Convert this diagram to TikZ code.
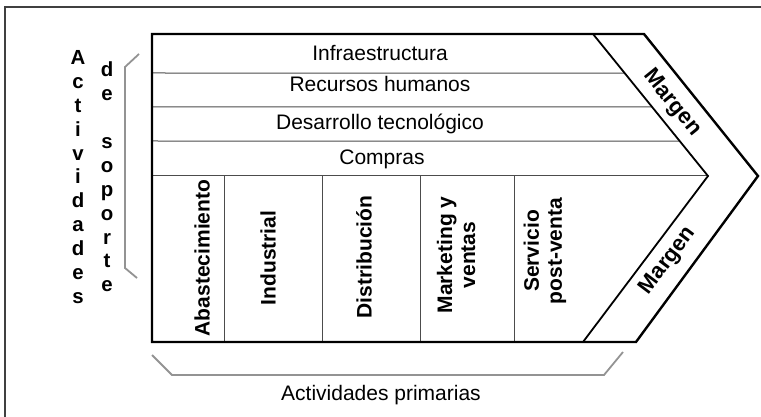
\documentclass[tikz,border=0pt]{standalone}
\usepackage{fontspec}
\setmainfont{Liberation Sans}
\usetikzlibrary{calc}

\begin{document}
\begin{tikzpicture}[x=0.5pt,y=-0.5pt,
        outline/.style={line width=1.2pt,line join=miter},
        sep/.style={line width=0.5pt,draw=black!70},
        chev/.style={line width=0.9pt},
        brak/.style={line width=0.9pt,draw=gray!85},
        rowlbl/.style={font=\fontsize{10.5}{12}\selectfont,anchor=base,inner sep=0pt},
        collbl/.style={font=\fontsize{10.5}{11.5}\selectfont\bfseries,rotate=90,align=center,inner sep=0pt},
        marglbl/.style={font=\fontsize{11}{13}\selectfont\bfseries,inner sep=0pt},
        vertlbl/.style={font=\fontsize{10.2}{11.95}\selectfont\bfseries,align=center,inner sep=0pt}
    ]
      \useasboundingbox (0,0) rectangle (761,417);
      \draw[line width=0.6pt,black!75] (5,440) -- (5,7) -- (780,7);
      % corners of the arrow
      \coordinate (tl) at (152,34);
      \coordinate (bl) at (152,342);
      \coordinate (ctop) at (593,34);
      \coordinate (ctip) at (708,176);
      \coordinate (cbot) at (583,342);
      \coordinate (otop) at (644,34);
      \coordinate (otip) at (758,176);
      \coordinate (obot) at (636,342);
      \foreach \y/\t in {73/0.275,107/0.514,141/0.754}
        \draw[sep] (152,\y) -- ($(ctop)!\t!(ctip)$);
      \draw[sep] (152,176) -- (ctip);
      \foreach \x in {224,322,420,514}
        \draw[sep] (\x,176) -- (\x,342);
      \draw[chev] (ctop) -- (ctip) -- (cbot);
      \draw[outline] (tl) -- (otop) -- (otip) -- (obot) -- (bl) -- cycle;
      % support rows
      \node[rowlbl] (infra) at (380,61) {Infraestructura};
      \node[rowlbl] (rrhh) at (380,92) {Recursos humanos};
      \node[rowlbl] (desa) at (380,130) {Desarrollo tecnológico};
      \node[rowlbl] (comp) at (382,164) {Compras};
      % primary columns
      \node[collbl] (abas) at (202,258) {Abastecimiento};
      \node[collbl] (indu) at (268,258) {Industrial};
      \node[collbl] (dist) at (364,257) {Distribución};
      \node[collbl] (mark) at (456,255) {Marketing y\\ventas};
      \node[collbl] (serv) at (545,251) {Servicio\\post-venta};
      \node[marglbl,rotate=-51] (mtop) at (672,103) {Margen};
      \node[marglbl,rotate=53] (mbot) at (668,261) {Margen};
      % brackets
      \draw[brak] (139,54) -- (125,67) -- (125,268) -- (137,278);
      \draw[brak] (152,355) -- (172,375) -- (604,375) -- (623,352);
      \node[vertlbl] (actlbl) at (78,177) {A\\c\\t\\i\\v\\i\\d\\a\\d\\e\\s};
      \node[vertlbl] (soplbl) at (107,177) {d\\e\\[11.95pt]s\\o\\p\\o\\r\\t\\e};
      \node[rowlbl] (prim) at (381,400) {Actividades primarias};
    \end{tikzpicture}
\end{document}
